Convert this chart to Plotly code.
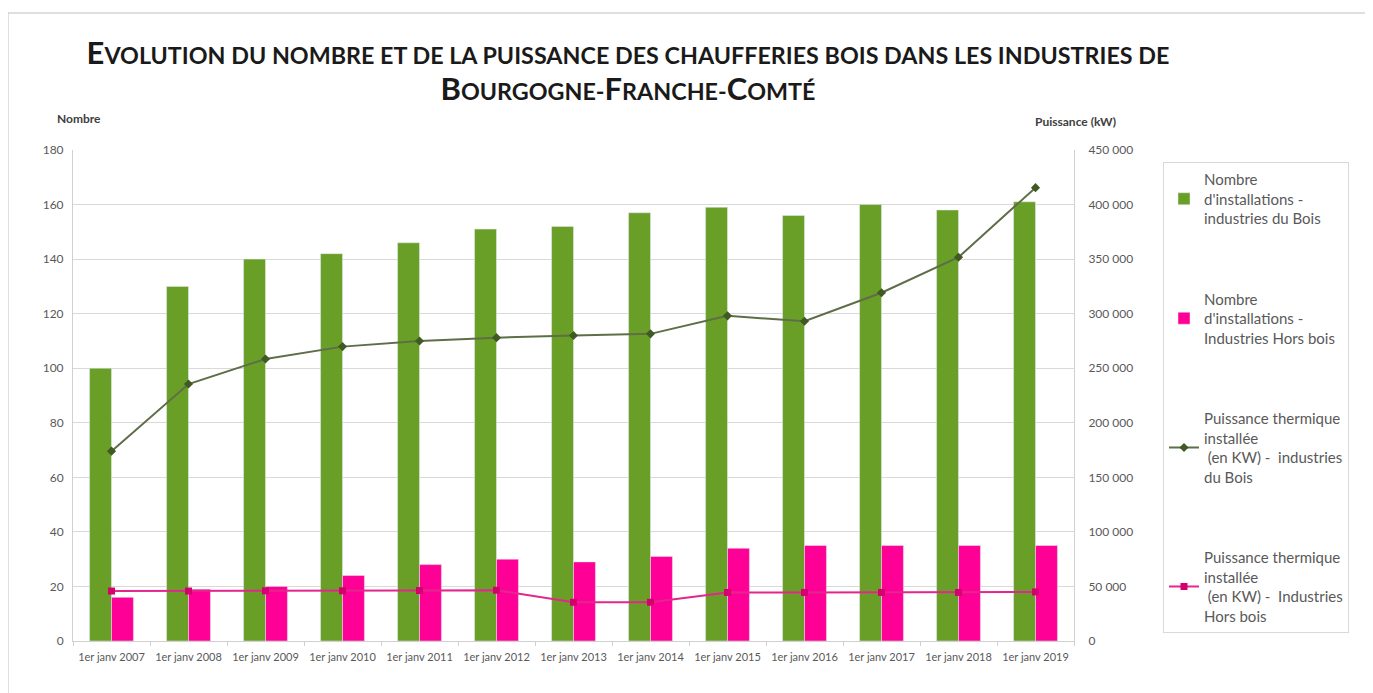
import plotly.graph_objects as go

categories = ["1er janv 2007", "1er janv 2008", "1er janv 2009", "1er janv 2010", "1er janv 2011",
              "1er janv 2012", "1er janv 2013", "1er janv 2014", "1er janv 2015", "1er janv 2016",
              "1er janv 2017", "1er janv 2018", "1er janv 2019"]
nb_bois = [100, 130, 140, 142, 146, 151, 152, 157, 159, 156, 160, 158, 161]
nb_hors_bois = [16, 19, 20, 24, 28, 30, 29, 31, 34, 35, 35, 35, 35]
puiss_bois = [174000, 235500, 258500, 269800, 275000, 278000, 280000, 281500, 298000, 293000, 319200, 351700, 415500]
puiss_hors_bois = [45800, 45800, 46000, 46000, 46200, 46500, 35500, 35500, 44500, 44500, 44500, 44500, 45000]

names = [
    "Nombre<br>d'installations -<br>industries du Bois",
    "Nombre<br>d'installations -<br>Industries Hors bois",
    "Puissance thermique<br>installée<br> (en KW) -  industries<br>du Bois",
    "Puissance thermique<br>installée<br> (en KW) -  Industries<br>Hors bois",
]

GREEN = "#6a9f27"
PINK = "#ff0096"
FONT = "Lato"
GRAY = "#595959"

# page body has an 8px margin: the figure is drawn 8px right/down
W, H = 1365, 685
L, R, T, B = 65, 1066, 142, 633  # plot area in figure pixels


def px(x):
    return (x - L) / (R - L)


def py(y):
    return (B - y) / (B - T)


fig = go.Figure()
fig.add_trace(go.Bar(x=categories, y=nb_bois, name=names[0], marker_color=GREEN, legendgroup="a"))
fig.add_trace(go.Bar(x=categories, y=nb_hors_bois, name=names[1], marker_color=PINK, legendgroup="b"))
fig.add_trace(go.Scatter(x=categories, y=puiss_bois, name=names[2], yaxis="y2", mode="lines+markers",
                         line=dict(color="#5e6e48", width=2),
                         marker=dict(symbol="diamond", size=7, color="#3f5a22"), legendgroup="c"))
fig.add_trace(go.Scatter(x=categories, y=puiss_hors_bois, name=names[3], yaxis="y2", mode="lines+markers",
                         line=dict(color="#e3268d", width=2),
                         marker=dict(symbol="square", size=7, color="#d4006e"), legendgroup="d"))


def sc(text, big=31, small=23.3):
    """Small caps: uppercase letters of the source text are big, lowercase ones small."""
    out = []
    for ch in text:
        if ch.isupper():
            out.append(f"<span style='font-size:{big}px'>{ch}</span>")
        elif ch.isalpha():
            out.append(f"<span style='font-size:{small}px'>{ch.upper()}</span>")
        else:
            out.append(f"<span style='font-size:{small}px'>{ch}</span>")
    return "".join(out)


title = (sc("Evolution du nombre et de la puissance des chaufferies bois dans les industries de")
         + "<br>" + sc("Bourgogne-Franche-Comté"))

fig.update_layout(
    width=W, height=H,
    margin=dict(l=L, r=W - R, t=T, b=H - B),
    paper_bgcolor="white", plot_bgcolor="white",
    font=dict(family=FONT, color=GRAY, size=12),
    separators=", ",
    barmode="group", bargap=0.43, bargroupgap=0,
    title=dict(text=title, x=620 / W, xanchor="center", y=1 - 56 / H, yanchor="middle",
               font=dict(family=FONT, size=28, color="#1a1a1a", weight="bold")),
    xaxis=dict(range=[-0.5, len(categories) - 0.5], showgrid=False, showline=True, linecolor="#d0d0d0",
               ticks="outside", tickson="boundaries", ticklen=4, tickcolor="#d0d0d0",
               tickangle=0, automargin=False,
               tickfont=dict(size=11, color=GRAY), ticklabelstandoff=6),
    yaxis=dict(range=[0, 180], dtick=20, showgrid=True, gridcolor="#d9d9d9", showline=True,
               linecolor="#d0d0d0", zeroline=False, tickfont=dict(size=12, color=GRAY), ticklabelstandoff=6,
               automargin=False),
    yaxis2=dict(range=[0, 450000], dtick=50000, overlaying="y", side="right", showgrid=False,
                showline=True, linecolor="#d0d0d0", zeroline=False, tickformat=",d",
                tickfont=dict(size=12, color=GRAY), ticklabelstandoff=11, automargin=False),
    legend=dict(x=px(1155), y=py(154), xanchor="left", yanchor="top", bgcolor="white",
                bordercolor="#d9d9d9", borderwidth=1, font=dict(size=15, color=GRAY),
                tracegroupgap=58, traceorder="grouped"),
    showlegend=True,
)

fig.add_annotation(x=px(47), y=py(110), xref="paper", yref="paper", text="<b>Nombre</b>", showarrow=False,
                   font=dict(size=12, color="#404040"), xanchor="left", yanchor="middle")
fig.add_annotation(x=px(1025), y=py(113), xref="paper", yref="paper",
                   text="<b>Puissance (kW)</b>", showarrow=False,
                   font=dict(size=12, color="#404040"), xanchor="left", yanchor="middle")

fig.add_shape(type="rect", xref="paper", yref="paper",
              x0=px(0), x1=px(1400), y0=py(720), y1=py(5),
              line=dict(color="#bfbfbf", width=1), fillcolor="rgba(0,0,0,0)", layer="below")

fig.write_html("out.html")
